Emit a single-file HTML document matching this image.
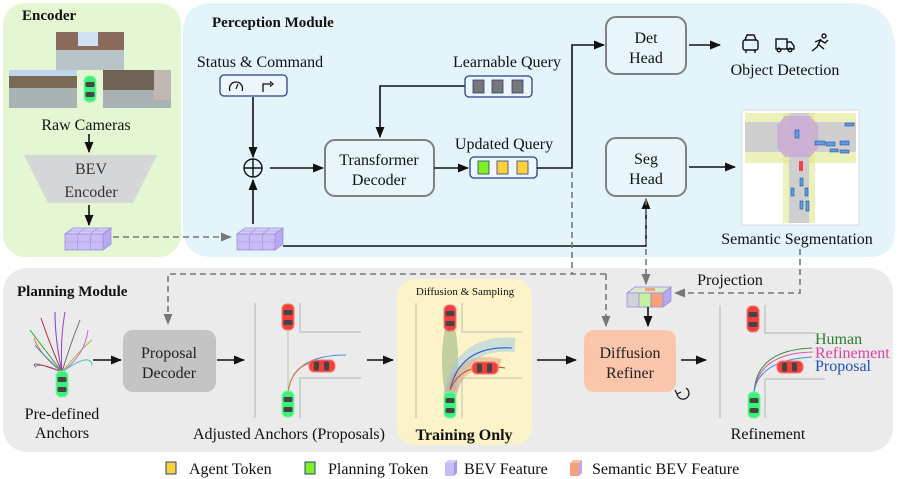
<!DOCTYPE html>
<html><head><meta charset="utf-8"><style>
html,body{margin:0;padding:0;background:#fff}
svg{display:block}
text{font-family:"Liberation Serif",serif}
</style></head><body>
<svg width="897" height="479" viewBox="0 0 897 479" xmlns="http://www.w3.org/2000/svg" fill="#111">
<defs>
<marker id="ah" viewBox="0 0 10 10" refX="9" refY="5" markerWidth="7" markerHeight="7" orient="auto"><path d="M0,1 L10,5 L0,9 z" fill="#111"/></marker>
<marker id="ag" viewBox="0 0 10 10" refX="9" refY="5" markerWidth="7" markerHeight="7" orient="auto"><path d="M0,1 L10,5 L0,9 z" fill="#777"/></marker>
<g id="cube">
<path d="M0,6 L8,0 L46,0 L38,6 z" fill="#d8ccf7" stroke="#9a8fe0" stroke-width="0.8"/>
<path d="M38,6 L46,0 L46,16 L38,22 z" fill="#b7a9ee" stroke="#9a8fe0" stroke-width="0.8"/>
<rect x="0" y="6" width="38" height="16" fill="#c9bcf5" stroke="#9a8fe0" stroke-width="0.8"/>
<path d="M12.7,6 V22 M25.3,6 V22 M0,14 H38 M4,3 H42 M20,0 L12.7,6 M33,0 L25.3,6" stroke="#9a8fe0" stroke-width="0.6" fill="none"/>
</g>
<g id="carg"><rect x="-6" y="-13" width="12" height="26" rx="5" fill="#3ef07a" stroke="#7ff5a3" stroke-width="1"/><rect x="-4.5" y="-7" width="9" height="5" rx="1.5" fill="#444"/><rect x="-4.5" y="3" width="9" height="5" rx="1.5" fill="#444"/></g>
<g id="carr"><rect x="-6" y="-13" width="12" height="26" rx="5" fill="#f0403c" stroke="#f57a77" stroke-width="1"/><rect x="-4.5" y="-7" width="9" height="5" rx="1.5" fill="#444"/><rect x="-4.5" y="3" width="9" height="5" rx="1.5" fill="#444"/></g>
</defs>

<rect x="3" y="3" width="178" height="254" rx="22" fill="#e4f7d2"/>
<path d="M213,3 H850 Q895,3 895,50 V230 Q895,257 868,257 H213 Q183,257 183,227 V33 Q183,3 213,3 z" fill="#e3f4fb"/>
<rect x="3" y="268" width="890" height="184" rx="24" fill="#ebebeb"/>
<rect x="397" y="279" width="135" height="166" rx="18" fill="#fcf4c8"/>

<text x="22" y="20" font-size="15" font-weight="bold">Encoder</text>
<text x="212" y="27" font-size="15" font-weight="bold">Perception Module</text>
<text x="17" y="296" font-size="15" font-weight="bold">Planning Module</text>

<rect x="56" y="32" width="68" height="38" fill="#b8c4c8"/><rect x="56" y="32" width="68" height="18" fill="#8a6a5a"/><rect x="78" y="32" width="20" height="14" fill="#cfe3f5"/>
<rect x="9" y="70" width="68" height="38" fill="#a9b3b4"/><rect x="9" y="70" width="68" height="18" fill="#7b6a55"/><rect x="9" y="70" width="68" height="6" fill="#bcd6ef"/>
<rect x="103" y="70" width="68" height="38" fill="#a9b1b2"/><rect x="103" y="70" width="55" height="20" fill="#6f6355"/><rect x="154" y="70" width="17" height="30" fill="#c0b8b0"/>
<rect x="77" y="70" width="26" height="38" fill="#e4f7d2"/>
<use href="#carg" x="90" y="89"/>
<text x="86" y="130" font-size="16" text-anchor="middle">Raw Cameras</text>
<line x1="89" y1="134" x2="89" y2="152" stroke="#111" stroke-width="1.6" marker-end="url(#ah)"/>
<path d="M24,155 H157 L133,203 H48 z" fill="#d4d6d8"/>
<text x="91" y="174" font-size="16" text-anchor="middle" fill="#333">BEV</text>
<text x="91" y="197" font-size="16" text-anchor="middle" fill="#333">Encoder</text>
<line x1="89" y1="205" x2="89" y2="225" stroke="#111" stroke-width="1.6" marker-end="url(#ah)"/>
<use href="#cube" x="65" y="228"/>
<line x1="113" y1="237" x2="231" y2="237" stroke="#777" stroke-width="1.6" stroke-dasharray="6,4" marker-end="url(#ag)"/>
<use href="#cube" x="237" y="228"/>

<text x="260" y="67" font-size="16" text-anchor="middle">Status &amp; Command</text>
<rect x="220" y="75" width="67" height="21" rx="4" fill="#eef6fd" stroke="#2a3f8a" stroke-width="1.3"/>
<path d="M230,91 A6.5,6.5 0 1 1 242,91" fill="none" stroke="#111" stroke-width="1.3"/><line x1="236" y1="89" x2="238" y2="84" stroke="#111" stroke-width="1.2"/>
<path d="M263,92 V84 H271" fill="none" stroke="#111" stroke-width="1.3"/><path d="M270,81.5 L273,84 L270,86.5" fill="none" stroke="#111" stroke-width="1.2"/>
<line x1="253" y1="97" x2="253" y2="157" stroke="#111" stroke-width="1.6" marker-end="url(#ah)"/>
<circle cx="253" cy="168" r="9" fill="none" stroke="#111" stroke-width="1.4"/><path d="M244,168 H262 M253,159 V177" stroke="#111" stroke-width="1.4"/>
<line x1="253" y1="224" x2="253" y2="180" stroke="#111" stroke-width="1.6" marker-end="url(#ah)"/>
<line x1="270" y1="168" x2="323" y2="168" stroke="#111" stroke-width="1.6" marker-end="url(#ah)"/>

<rect x="325" y="140" width="109" height="56" rx="10" fill="#e8f6fb" stroke="#808080" stroke-width="2"/>
<text x="379" y="165" font-size="16" text-anchor="middle">Transformer</text>
<text x="379" y="185" font-size="16" text-anchor="middle">Decoder</text>
<path d="M465,86 H380 V137" fill="none" stroke="#111" stroke-width="1.6" marker-end="url(#ah)"/>

<text x="507" y="67" font-size="16" text-anchor="middle">Learnable Query</text>
<rect x="465" y="76" width="67" height="21" rx="4" fill="#eef6fd" stroke="#2a3f8a" stroke-width="1.3"/>
<rect x="473" y="80" width="11" height="13" fill="#777" stroke="#2a3f8a" stroke-width="0.8"/><rect x="492" y="80" width="11" height="13" fill="#777" stroke="#2a3f8a" stroke-width="0.8"/><rect x="512" y="80" width="11" height="13" fill="#777" stroke="#2a3f8a" stroke-width="0.8"/>

<text x="504" y="149" font-size="16" text-anchor="middle">Updated Query</text>
<line x1="434" y1="168" x2="468" y2="168" stroke="#111" stroke-width="1.6" marker-end="url(#ah)"/>
<rect x="470" y="157" width="67" height="21" rx="4" fill="#eef6fd" stroke="#2a3f8a" stroke-width="1.3"/>
<rect x="478" y="161" width="11" height="13" fill="#7ff021" stroke="#2a3f8a" stroke-width="0.8"/><rect x="497" y="161" width="11" height="13" fill="#fcd23a" stroke="#2a3f8a" stroke-width="0.8"/><rect x="517" y="161" width="11" height="13" fill="#fcd23a" stroke="#2a3f8a" stroke-width="0.8"/>
<path d="M537,168 H572 V45 H604" fill="none" stroke="#111" stroke-width="1.6" marker-end="url(#ah)"/>

<rect x="606" y="17" width="80" height="57" rx="10" fill="#e8f6fb" stroke="#808080" stroke-width="2"/>
<text x="646" y="43" font-size="16" text-anchor="middle">Det</text><text x="646" y="63" font-size="16" text-anchor="middle">Head</text>
<line x1="689" y1="45" x2="720" y2="45" stroke="#111" stroke-width="1.6" marker-end="url(#ah)"/>
<g fill="none" stroke="#111" stroke-width="1.4"><rect x="743" y="40" width="15" height="10" rx="2"/><path d="M745,40 L747,35 H754 L756,40"/><path d="M746,50 V53 M755,50 V53"/>
<rect x="776" y="39" width="11" height="10"/><path d="M787,42 H791 L794,46 V49 H787"/><circle cx="779" cy="50" r="1.8"/><circle cx="790" cy="50" r="1.8"/>
<circle cx="824" cy="36" r="2"/><path d="M821,39 L817,47 L812,51 M818,44 L824,49 M820,40 L825,43 L828,40 M820,40 L815,42"/></g>
<text x="785" y="75" font-size="16" text-anchor="middle">Object Detection</text>

<rect x="606" y="138" width="80" height="58" rx="10" fill="#e8f6fb" stroke="#808080" stroke-width="2"/>
<text x="646" y="164" font-size="16" text-anchor="middle">Seg</text><text x="646" y="184" font-size="16" text-anchor="middle">Head</text>
<line x1="689" y1="167" x2="735" y2="167" stroke="#111" stroke-width="1.6" marker-end="url(#ah)"/>
<path d="M283,246 H646 V199" fill="none" stroke="#111" stroke-width="1.6" marker-end="url(#ah)"/>

<rect x="742" y="110" width="117" height="115" fill="#fff" stroke="#ddd"/>
<rect x="745" y="113" width="111" height="50" fill="#dfe88a" opacity="0.6"/>
<rect x="745" y="122" width="111" height="30" fill="#cfcfcf"/>
<rect x="783" y="113" width="32" height="110" fill="#dfe88a" opacity="0.6"/>
<rect x="789" y="113" width="20" height="110" fill="#cfcfcf"/>
<polygon points="785,116 810,116 818,125 818,148 810,157 785,157 777,148 777,125" fill="#c9a6d8" opacity="0.8"/>
<g fill="#5aa0e8" stroke="#1a3a80" stroke-width="0.5"><rect x="815" y="141" width="10" height="4"/><rect x="826" y="142" width="9" height="4"/><rect x="840" y="141" width="9" height="4"/><rect x="830" y="149" width="8" height="3"/><rect x="840" y="150" width="9" height="3"/><rect x="845" y="123" width="9" height="3"/><rect x="795" y="130" width="4" height="8"/><rect x="800" y="178" width="3" height="8"/><rect x="791" y="188" width="3" height="8"/><rect x="805" y="188" width="3" height="8"/><rect x="800" y="201" width="3" height="8"/><rect x="806" y="201" width="3" height="10"/></g>
<rect x="799" y="161" width="4" height="10" fill="#e44"/>
<text x="797" y="244" font-size="16" text-anchor="middle">Semantic Segmentation</text>

<g fill="none" stroke="#777" stroke-width="1.6" stroke-dasharray="6,4">
<path d="M572,172 V274"/>
<path d="M606,274 H168 V324" marker-end="url(#ag)"/>
<path d="M606,274 V326" marker-end="url(#ag)"/>
<path d="M646,199 V284" marker-end="url(#ag)"/>
<path d="M800,249 V293 H675" marker-end="url(#ag)"/>
</g>
<text x="730" y="285" font-size="16" text-anchor="middle">Projection</text>
<g transform="translate(627,287)">
<path d="M0,6 L8,0 L44,0 L36,6 z" fill="#d8e8c8" stroke="#9a8fe0" stroke-width="0.8"/>
<path d="M36,6 L44,0 L44,14 L36,20 z" fill="#b7a9ee" stroke="#9a8fe0" stroke-width="0.8"/>
<rect x="0" y="6" width="12" height="14" fill="#cfd3d8" stroke="#9a8fe0" stroke-width="0.8"/>
<rect x="12" y="6" width="12" height="14" fill="#c4f0a0" stroke="#9a8fe0" stroke-width="0.8"/>
<rect x="24" y="6" width="12" height="14" fill="#f5a27a" stroke="#9a8fe0" stroke-width="0.8"/>
<rect x="18" y="1" width="10" height="3" fill="#f5a27a"/>
</g>
<line x1="648" y1="307" x2="648" y2="326" stroke="#111" stroke-width="1.6" marker-end="url(#ah)"/>

<g fill="none" stroke-width="1">
<path d="M62,372 Q55,340 55,312" stroke="#7b3fd0"/><path d="M62,372 Q60,340 65,312" stroke="#a040c0"/>
<path d="M62,372 Q50,345 41,318" stroke="#b03040"/><path d="M62,372 Q70,345 80,320" stroke="#707070"/>
<path d="M62,372 Q45,350 30,330" stroke="#30a030"/><path d="M62,372 Q80,350 92,340" stroke="#a0c030"/>
<path d="M62,372 Q40,355 34,338" stroke="#e07020"/><path d="M62,372 Q85,355 88,330" stroke="#d060d0"/>
<path d="M62,372 Q40,352 35,345" stroke="#4080e0"/>
<path d="M62,372 Q40,362 35,367" stroke="#4080e0"/><path d="M62,372 Q30,360 35,366" stroke="#c04040"/>
<path d="M62,372 Q90,352 92,365" stroke="#40c0c0"/>
</g>
<use href="#carg" x="62" y="384"/>
<text x="62" y="419" font-size="16" text-anchor="middle">Pre-defined</text>
<text x="62" y="438" font-size="16" text-anchor="middle">Anchors</text>
<line x1="93" y1="360" x2="121" y2="360" stroke="#111" stroke-width="1.6" marker-end="url(#ah)"/>
<rect x="123" y="330" width="93" height="62" rx="10" fill="#c4c4c4"/>
<text x="169" y="358" font-size="16" text-anchor="middle" fill="#222">Proposal</text>
<text x="169" y="378" font-size="16" text-anchor="middle" fill="#222">Decoder</text>
<line x1="217" y1="360" x2="244" y2="360" stroke="#111" stroke-width="1.6" marker-end="url(#ah)"/>

<g stroke="#b8c0c0" stroke-width="1.2" fill="none"><path d="M255,303 V418"/><path d="M300,303 V332 H361"/><path d="M300,418 V378 H361"/></g>
<line x1="288" y1="330" x2="288" y2="390" stroke="#9dcf9d" stroke-width="1"/>
<path d="M288,393 Q292,355 346,355" stroke="#4a8ae8" fill="none" stroke-width="1"/>
<path d="M288,393 Q292,362 320,362" stroke="#e07030" fill="none" stroke-width="1"/>
<use href="#carr" x="288" y="317"/>
<use href="#carg" x="288" y="404"/>
<use href="#carr" transform="translate(322,366) rotate(90)"/>
<text x="289" y="439" font-size="16" text-anchor="middle">Adjusted Anchors (Proposals)</text>
<line x1="367" y1="360" x2="393" y2="360" stroke="#111" stroke-width="1.6" marker-end="url(#ah)"/>

<text x="465" y="295" font-size="11" text-anchor="middle">Diffusion &amp; Sampling</text>
<g stroke="#c8c8b8" stroke-width="1.2" fill="none"><path d="M416,303 V418"/><path d="M462,303 V332 H522"/><path d="M462,418 V378 H522"/></g>
<ellipse cx="450" cy="360" rx="8" ry="40" fill="#5a8a4a" opacity="0.35"/>
<path d="M450,395 Q460,340 515,345" stroke="#9cc8e8" stroke-width="14" fill="none" opacity="0.5"/>
<path d="M450,395 Q460,355 500,365" stroke="#e0a080" stroke-width="12" fill="none" opacity="0.5"/>
<path d="M450,390 Q460,345 512,348" stroke="#2060d0" stroke-width="1" fill="none"/>
<path d="M450,390 Q462,360 505,368" stroke="#c05010" stroke-width="1" fill="none"/>
<use href="#carr" x="450" y="318"/>
<use href="#carg" x="450" y="405"/>
<use href="#carr" transform="translate(485,368) rotate(90)"/>
<text x="464" y="440" font-size="16" font-weight="bold" text-anchor="middle">Training Only</text>
<line x1="537" y1="360" x2="576" y2="360" stroke="#111" stroke-width="1.6" marker-end="url(#ah)"/>

<rect x="584" y="330" width="92" height="62" rx="10" fill="#fcc6ad"/>
<text x="630" y="358" font-size="16" text-anchor="middle" fill="#222">Diffusion</text>
<text x="630" y="378" font-size="16" text-anchor="middle" fill="#222">Refiner</text>
<path d="M677,393 A6,6 0 1 0 686,388" fill="none" stroke="#111" stroke-width="1.2"/><path d="M675,390 L677,394 L681,392" fill="none" stroke="#111" stroke-width="1.2"/>
<line x1="681" y1="360" x2="706" y2="360" stroke="#111" stroke-width="1.6" marker-end="url(#ah)"/>

<g stroke="#b8c0c0" stroke-width="1.2" fill="none"><path d="M720,305 V418"/><path d="M765,305 V333 H815"/><path d="M765,418 V379 H825"/></g>
<path d="M754,393 Q756,350 812,348" stroke="#3a8a3a" fill="none" stroke-width="1"/>
<path d="M754,393 Q758,353 813,352" stroke="#e050b0" fill="none" stroke-width="1"/>
<path d="M754,393 Q758,360 812,357" stroke="#4a8ae8" fill="none" stroke-width="1"/>
<use href="#carr" x="753" y="319"/>
<use href="#carg" x="754" y="405"/>
<use href="#carr" transform="translate(790,367) rotate(90)"/>
<text x="815" y="344" font-size="16" fill="#2e7d32">Human</text>
<text x="815" y="358" font-size="16" fill="#e040a0">Refinement</text>
<text x="815" y="371" font-size="16" fill="#1e50c0">Proposal</text>
<text x="768" y="439" font-size="16" text-anchor="middle">Refinement</text>

<rect x="166" y="462" width="10" height="12" fill="#fcd23a" stroke="#2a3f8a" stroke-width="1"/>
<text x="189" y="474" font-size="16">Agent Token</text>
<rect x="305" y="462" width="10" height="12" fill="#7ff021" stroke="#2a3f8a" stroke-width="1"/>
<text x="328" y="474" font-size="16">Planning Token</text>
<g transform="translate(445,460)"><path d="M0,3 L3,0 H12 L9,3 z" fill="#d8ccf7"/><path d="M9,3 L12,0 V13 L9,16 z" fill="#a899e8"/><rect x="0" y="3" width="9" height="13" fill="#c9bcf5"/></g>
<text x="464" y="474" font-size="16">BEV Feature</text>
<g transform="translate(570,460)"><path d="M0,3 L3,0 H12 L9,3 z" fill="#f8c0a0"/><path d="M9,3 L12,0 V13 L9,16 z" fill="#b7a9ee"/><rect x="0" y="3" width="9" height="13" fill="#f5a27a"/></g>
<text x="592" y="474" font-size="16">Semantic BEV Feature</text>
</svg>
</body></html>
